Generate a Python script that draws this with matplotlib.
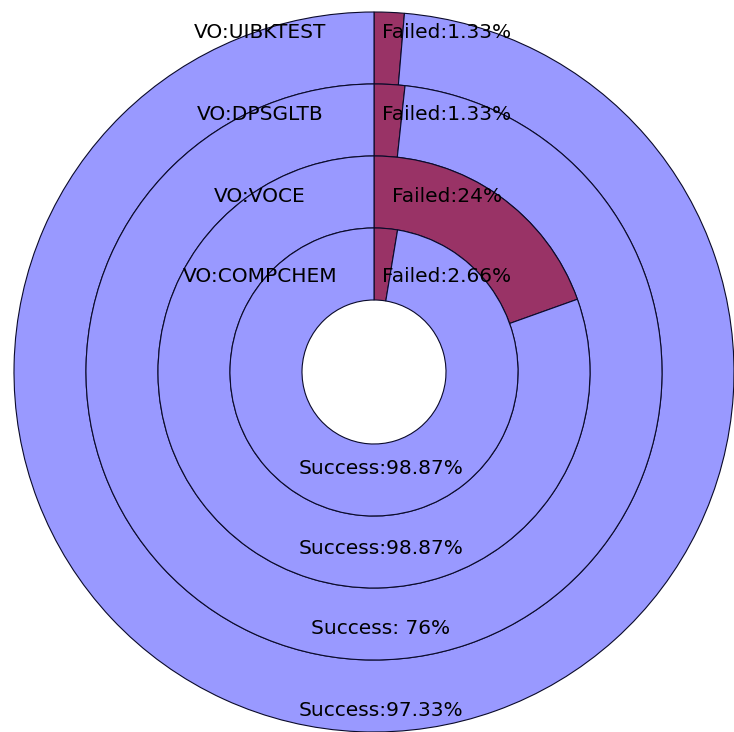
import numpy as np
import matplotlib
matplotlib.use("Agg")
import matplotlib.pyplot as plt

# rings from outside in
vos = ["VO:UIBKTEST", "VO:DPSGLTB", "VO:VOCE", "VO:COMPCHEM"]
failed = [1.33, 1.33, 24, 2.66]
success = [97.33, 76, 98.87, 98.87]
success_text = ["Success:97.33%", "Success: 76%", "Success:98.87%", "Success:98.87%"]
failed_text = ["Failed:1.33%", "Failed:1.33%", "Failed:24%", "Failed:2.66%"]

FAIL_COLOR = "#993366"
OK_COLOR = "#9999ff"
EDGE = "#0a0a2a"


def main():
    fig = plt.figure(figsize=(7.34, 7.32), dpi=100)
    ax = fig.add_axes([0, 0, 1, 1])
    cx, cy = 374, 360
    r_out, width = 360, 72
    label_r = [339, 257, 176, 96]

    for i, vo in enumerate(vos):
        r = r_out - i * width
        ax.pie([failed[i], success[i]], radius=r, center=(cx, cy),
               startangle=90, counterclock=False,
               colors=[FAIL_COLOR, OK_COLOR],
               wedgeprops=dict(width=width, edgecolor=EDGE, linewidth=0.8))
        ax.text(cx - 114, cy + label_r[i], vo, ha="center", va="center", fontsize=14.5)
        ax.text(cx + 73, cy + label_r[i], failed_text[i], ha="center", va="center", fontsize=14.5)
        ax.text(cx + 7, cy - label_r[3 - i], success_text[3 - i], ha="center", va="center", fontsize=14.5)

    ax.set_xlim(0, 734)
    ax.set_ylim(0, 732)
    ax.set_aspect("equal")
    ax.axis("off")
    fig.savefig("out.png", dpi=100)


if __name__ == "__main__":
    main()
